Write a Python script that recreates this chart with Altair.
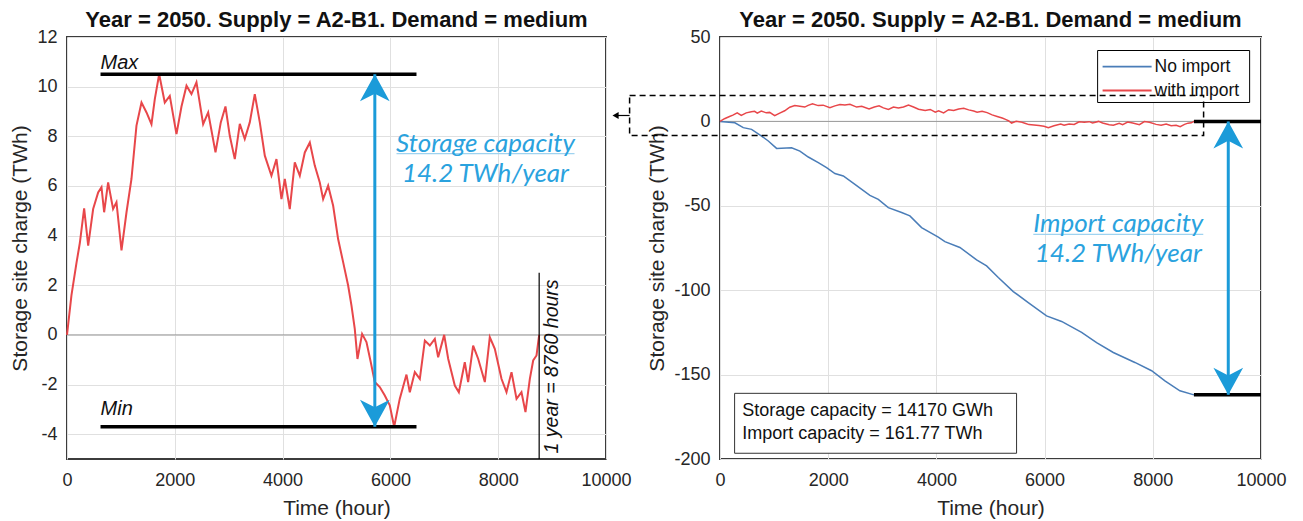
import altair as alt
import pandas as pd

# ---------------- data ----------------
TITLE = "Year = 2050. Supply = A2-B1. Demand = medium"

HOURS = [0, 83, 176, 238, 318, 393, 485, 578, 640, 689, 763, 855, 918, 1011, 1104,
         1196, 1289, 1382, 1475, 1567, 1629, 1710, 1814, 1907, 2031, 2124, 2217, 2309,
         2402, 2526, 2619, 2755, 2853, 2940, 3020, 3113, 3206, 3298, 3391, 3484, 3577,
         3670, 3793, 3886, 3979, 4041, 4133, 4226, 4319, 4412, 4505, 4597, 4690, 4752,
         4845, 4938, 5030, 5123, 5216, 5278, 5339, 5389, 5475, 5556, 5636, 5710, 5803,
         5896, 5988, 6070, 6173, 6298, 6360, 6453, 6546, 6639, 6732, 6824, 6886, 6998,
         7072, 7195, 7270, 7380, 7442, 7535, 7628, 7752, 7844, 7937, 8061, 8154, 8247,
         8340, 8432, 8506, 8587, 8649, 8711, 8760]
WITH_IMPORT = [0, 1.6, 2.9, 3.7, 5.1, 3.6, 5.07, 5.74, 5.95, 4.94, 6.14, 5.07, 5.34, 3.4,
               4.94, 6.28, 8.43, 9.36, 8.96, 8.49, 9.5, 10.5, 9.36, 9.63, 8.09, 9.2, 10.04,
               9.7, 10.17, 8.49, 8.96, 7.35, 8.56, 9.2, 8.02, 7.08, 8.5, 7.89, 8.56, 9.7,
               8.56, 7.22, 6.41, 7.08, 5.47, 6.28, 5.07, 6.95, 6.41, 7.35, 7.75, 6.82, 6.14,
               5.47, 6.01, 5.2, 3.86, 2.93, 1.99, 1.18, 0.24, -0.97, 0.04, -0.29, -1.1, -1.9,
               -2.1, -2.44, -2.84, -3.7, -2.58, -1.6, -2.31, -1.5, -1.77, -0.23, -0.43, -0.16,
               -0.9, 0, -0.96, -2.04, -2.31, -1.1, -1.9, -0.43, -0.96, -1.9, -0.09, -0.56,
               -1.77, -2.31, -1.5, -2.58, -2.31, -3.11, -1.77, -1.03, -0.83, 0]

NO_IMPORT_HOURS = [0, 275, 430, 584, 769, 893, 1046, 1323, 1477, 1632, 1817, 1970, 2124,
                   2279, 2494, 2771, 2926, 3111, 3357, 3510, 3726, 4035, 4157, 4434, 4743,
                   4928, 5144, 5421, 5698, 6036, 6314, 6684, 6961, 7270, 7669, 7978, 8224,
                   8501, 8760]
NO_IMPORT = [0, -0.8, -3.7, -4.7, -8.7, -11.6, -16, -15.6, -17.6, -21.1, -24.4, -27.4,
             -30.9, -32.3, -37.3, -43.8, -46.2, -51.1, -54, -56, -62.9, -68.5, -71.2,
             -74.7, -82, -85.6, -92.5, -100.8, -107.3, -115.2, -118.5, -125, -131, -136.9,
             -142.8, -147.7, -153.7, -159.6, -162]

X_TICKS = [0, 2000, 4000, 6000, 8000, 10000]
LEFT_Y_TICKS = [-4, -2, 0, 2, 4, 6, 8, 10, 12]
RIGHT_Y_TICKS = [-200, -150, -100, -50, 0, 50]

STORAGE_MAX = 10.5
STORAGE_MIN = -3.7
IMPORT_MIN = -162
YEAR_HOURS = 8760

# ---------------- styling ----------------
RED = "#e8474a"
BLUE_LINE = "#4a7db8"
ARROW = "#1b9bd9"
ANN = "#2aa2de"
FONT = "Liberation Sans"
ANN_FONT = "Lato"
UP_HEAD = "M0,0 L0.55,1 L0,0.72 L-0.55,1 Z"
DOWN_HEAD = "M0,0 L0.55,-1 L0,-0.72 L-0.55,-1 Z"

xs = alt.Scale(domain=[0, 10000], nice=False, zero=False)
ly = alt.Scale(domain=[-5, 12], nice=False, zero=False)
ry = alt.Scale(domain=[-200, 50], nice=False, zero=False)

xaxis = alt.Axis(values=X_TICKS, title="Time (hour)", format="d", labelFlush=False)
lyaxis = alt.Axis(values=LEFT_Y_TICKS, title="Storage site charge (TWh)",
                  labelExpr="'' + datum.value")
ryaxis = alt.Axis(values=RIGHT_Y_TICKS, title="Storage site charge (TWh)",
                  labelExpr="'' + datum.value")


def X(field):
    return alt.X(field, type="quantitative", scale=xs, axis=xaxis)


def LY(field):
    return alt.Y(field, type="quantitative", scale=ly, axis=lyaxis)


def RY(field):
    return alt.Y(field, type="quantitative", scale=ry, axis=ryaxis)


# ---------------- left panel ----------------
left_df = pd.DataFrame({"hour": HOURS, "charge": WITH_IMPORT})

zero_l = alt.Chart(pd.DataFrame({"y": [0]})).mark_rule(color="#9a9a9a", strokeWidth=1).encode(
    y=LY("y"))

line_l = alt.Chart(left_df).mark_line(color=RED, strokeWidth=2).encode(
    x=X("hour"), y=LY("charge"))

lim_df = pd.DataFrame({"x1": [622, 622], "x2": [6484, 6484], "y": [STORAGE_MAX, STORAGE_MIN],
                       "lab": ["Max", "Min"], "ly": [10.97, -2.99]})
lims = alt.Chart(lim_df).mark_rule(color="black", strokeWidth=3.5).encode(
    x=X("x1"), x2="x2", y=LY("y"))
lim_txt = alt.Chart(lim_df).mark_text(align="left", baseline="middle", font=FONT,
                                      fontStyle="italic", fontSize=20, color="#111").encode(
    x=X("x1"), y=LY("ly"), text="lab:N")

arr_df = pd.DataFrame({"x": [5711], "y": [STORAGE_MAX], "y2": [STORAGE_MIN]})
shaft_l = alt.Chart(arr_df).mark_rule(color=ARROW, strokeWidth=3).encode(
    x=X("x"), y=LY("y"), y2="y2")
head_up_l = alt.Chart(arr_df).mark_point(shape=UP_HEAD, size=2916, filled=True, opacity=1,
                                         color=ARROW).encode(x=X("x"), y=LY("y"))
head_dn_l = alt.Chart(arr_df).mark_point(shape=DOWN_HEAD, size=2916, filled=True, opacity=1,
                                         color=ARROW).encode(x=X("x"), y=LY("y2"))

cap_l_df = pd.DataFrame({"x": [7764, 7764], "y": [7.69, 6.48],
                         "t": ["Storage capacity", "14.2 TWh/year"]})
cap_l = alt.Chart(cap_l_df).mark_text(align="center", baseline="middle", font=ANN_FONT,
                                      fontStyle="italic", fontSize=26, color=ANN).encode(
    x=X("x"), y=LY("y"), text="t:N")
ul_l = alt.Chart(pd.DataFrame({"x1": [6113], "x2": [9416], "y": [7.3]})).mark_rule(
    color="#9fd3f0", strokeWidth=1.2).encode(x=X("x1"), x2="x2", y=LY("y"))

year_df = pd.DataFrame({"x": [YEAR_HOURS], "y": [2.5], "y2": [-5], "tx": [8989], "ty": [-1.27],
                        "t": ["1 year = 8760 hours"]})
year_line = alt.Chart(year_df).mark_rule(color="black", strokeWidth=1.2).encode(
    x=X("x"), y=LY("y"), y2="y2")
year_txt = alt.Chart(year_df).mark_text(angle=270, align="center", baseline="middle", font=FONT,
                                        fontStyle="italic", fontSize=19.5, color="#111").encode(
    x=X("tx"), y=LY("ty"), text="t:N")

left = alt.layer(zero_l, line_l, lims, lim_txt, shaft_l, head_up_l, head_dn_l, ul_l, cap_l,
                 year_line, year_txt).properties(width=539, height=422, title=TITLE)

# ---------------- right panel ----------------
r_df = pd.concat([
    pd.DataFrame({"hour": NO_IMPORT_HOURS, "charge": NO_IMPORT, "s": "No import"}),
    pd.DataFrame({"hour": HOURS, "charge": WITH_IMPORT, "s": "with import"}),
])
series_color = alt.Color("s:N", scale=alt.Scale(domain=["No import", "with import"],
                                                range=[BLUE_LINE, RED]), legend=None)

zero_r = alt.Chart(pd.DataFrame({"y": [0]})).mark_rule(color="#9a9a9a", strokeWidth=1).encode(
    y=RY("y"))
lines_r = alt.Chart(r_df).mark_line(strokeWidth=1.5).encode(
    x=X("hour"), y=RY("charge"), color=series_color)

blk_df = pd.DataFrame({"x1": [YEAR_HOURS, YEAR_HOURS], "x2": [10000, 10000], "y": [0, IMPORT_MIN]})
blk_r = alt.Chart(blk_df).mark_rule(color="black", strokeWidth=3.5).encode(
    x=X("x1"), x2="x2", y=RY("y"))

arr_r_df = pd.DataFrame({"x": [9395], "y": [0], "y2": [IMPORT_MIN]})
shaft_r = alt.Chart(arr_r_df).mark_rule(color=ARROW, strokeWidth=3).encode(
    x=X("x"), y=RY("y"), y2="y2")
head_up_r = alt.Chart(arr_r_df).mark_point(shape=UP_HEAD, size=2916, filled=True, opacity=1,
                                           color=ARROW).encode(x=X("x"), y=RY("y"))
head_dn_r = alt.Chart(arr_r_df).mark_point(shape=DOWN_HEAD, size=2916, filled=True, opacity=1,
                                           color=ARROW).encode(x=X("x"), y=RY("y2"))

cap_r_df = pd.DataFrame({"x": [7362, 7362], "y": [-61, -78.7],
                         "t": ["Import capacity", "14.2 TWh/year"]})
cap_r = alt.Chart(cap_r_df).mark_text(align="center", baseline="middle", font=ANN_FONT,
                                      fontStyle="italic", fontSize=26, color=ANN).encode(
    x=X("x"), y=RY("y"), text="t:N")
ul_r = alt.Chart(pd.DataFrame({"x1": [5791], "x2": [8933], "y": [-66.9]})).mark_rule(
    color="#9fd3f0", strokeWidth=1.2).encode(x=X("x1"), x2="x2", y=RY("y"))

# legend box
leg_box = alt.Chart(pd.DataFrame({"x1": [6980], "x2": [9790], "y1": [42], "y2": [11.2]})).mark_rect(
    fill="white", stroke="black", strokeWidth=1).encode(
    x=X("x1"), x2="x2", y=RY("y1"), y2="y2")
leg_df = pd.DataFrame({"x1": [7072, 7072], "x2": [7978, 7978], "tx": [8033, 8033],
                       "y": [32.5, 18.3], "s": ["No import", "with import"]})
leg_lines = alt.Chart(leg_df).mark_rule(strokeWidth=1.8).encode(
    x=X("x1"), x2="x2", y=RY("y"), color=series_color)
leg_txt = alt.Chart(leg_df).mark_text(align="left", baseline="middle", font=FONT, fontSize=17.5,
                                      color="#111").encode(
    x=X("tx"), y=RY("y"), text="s:N")

# info box
info_box = alt.Chart(pd.DataFrame({"x1": [270], "x2": [5482], "y1": [-161.1], "y2": [-196.6]})).mark_rect(
    fill="white", stroke="#333", strokeWidth=1).encode(
    x=X("x1"), x2="x2", y=RY("y1"), y2="y2")
info_df = pd.DataFrame({"x": [412, 412], "y": [-171.4, -185.2],
                        "t": ["Storage capacity = 14170 GWh", "Import capacity = 161.77 TWh"]})
info_txt = alt.Chart(info_df).mark_text(align="left", baseline="middle", font=FONT, fontSize=18,
                                        color="#111").encode(
    x=X("x"), y=RY("y"), text="t:N")

# dashed zoom box with small arrow
dash_box = alt.Chart(pd.DataFrame({"x1": [-1671], "x2": [8939], "y1": [15.4], "y2": [-8.3]})).mark_rect(
    fillOpacity=0, stroke="black", strokeWidth=1.5, strokeDash=[6, 4], clip=False).encode(
    x=X("x1"), x2="x2", y=RY("y1"), y2="y2")
small_arr_df = pd.DataFrame({"x": [-1930], "x2": [-1671], "y": [3.5]})
small_line = alt.Chart(small_arr_df).mark_rule(color="black", strokeWidth=1.2, clip=False).encode(
    x=X("x"), x2="x2", y=RY("y"))
small_head = alt.Chart(small_arr_df).mark_point(shape="triangle-left", size=50, filled=True,
                                                opacity=1, color="black", clip=False).encode(
    x=X("x"), y=RY("y"))

right = alt.layer(zero_r, lines_r, blk_r, shaft_r, head_up_r, head_dn_r, ul_r, cap_r,
                  leg_box, leg_lines, leg_txt, info_box, info_txt, dash_box, small_line,
                  small_head).properties(width=541, height=422, title=TITLE)

chart = alt.hconcat(left, right, spacing=114, bounds="flush").properties(
    padding=0
).configure_view(
    stroke="#3c3c3c", strokeWidth=2
).configure_axis(
    labelFont=FONT, labelFontSize=18, labelColor="#262626",
    titleFont=FONT, titleFontSize=21, titleFontWeight="normal", titleColor="#262626",
    grid=True, gridColor="#e0e0e0", gridWidth=1, ticks=False, domain=False,
    labelPadding=10, titlePadding=6
).configure_axisX(labelPadding=12, titlePadding=8).configure_title(
    font=FONT, fontSize=22, fontWeight="bold", color="#111", offset=-4, anchor="middle"
)

chart.save("out.html", embed_options={"renderer": "svg", "actions": False})
